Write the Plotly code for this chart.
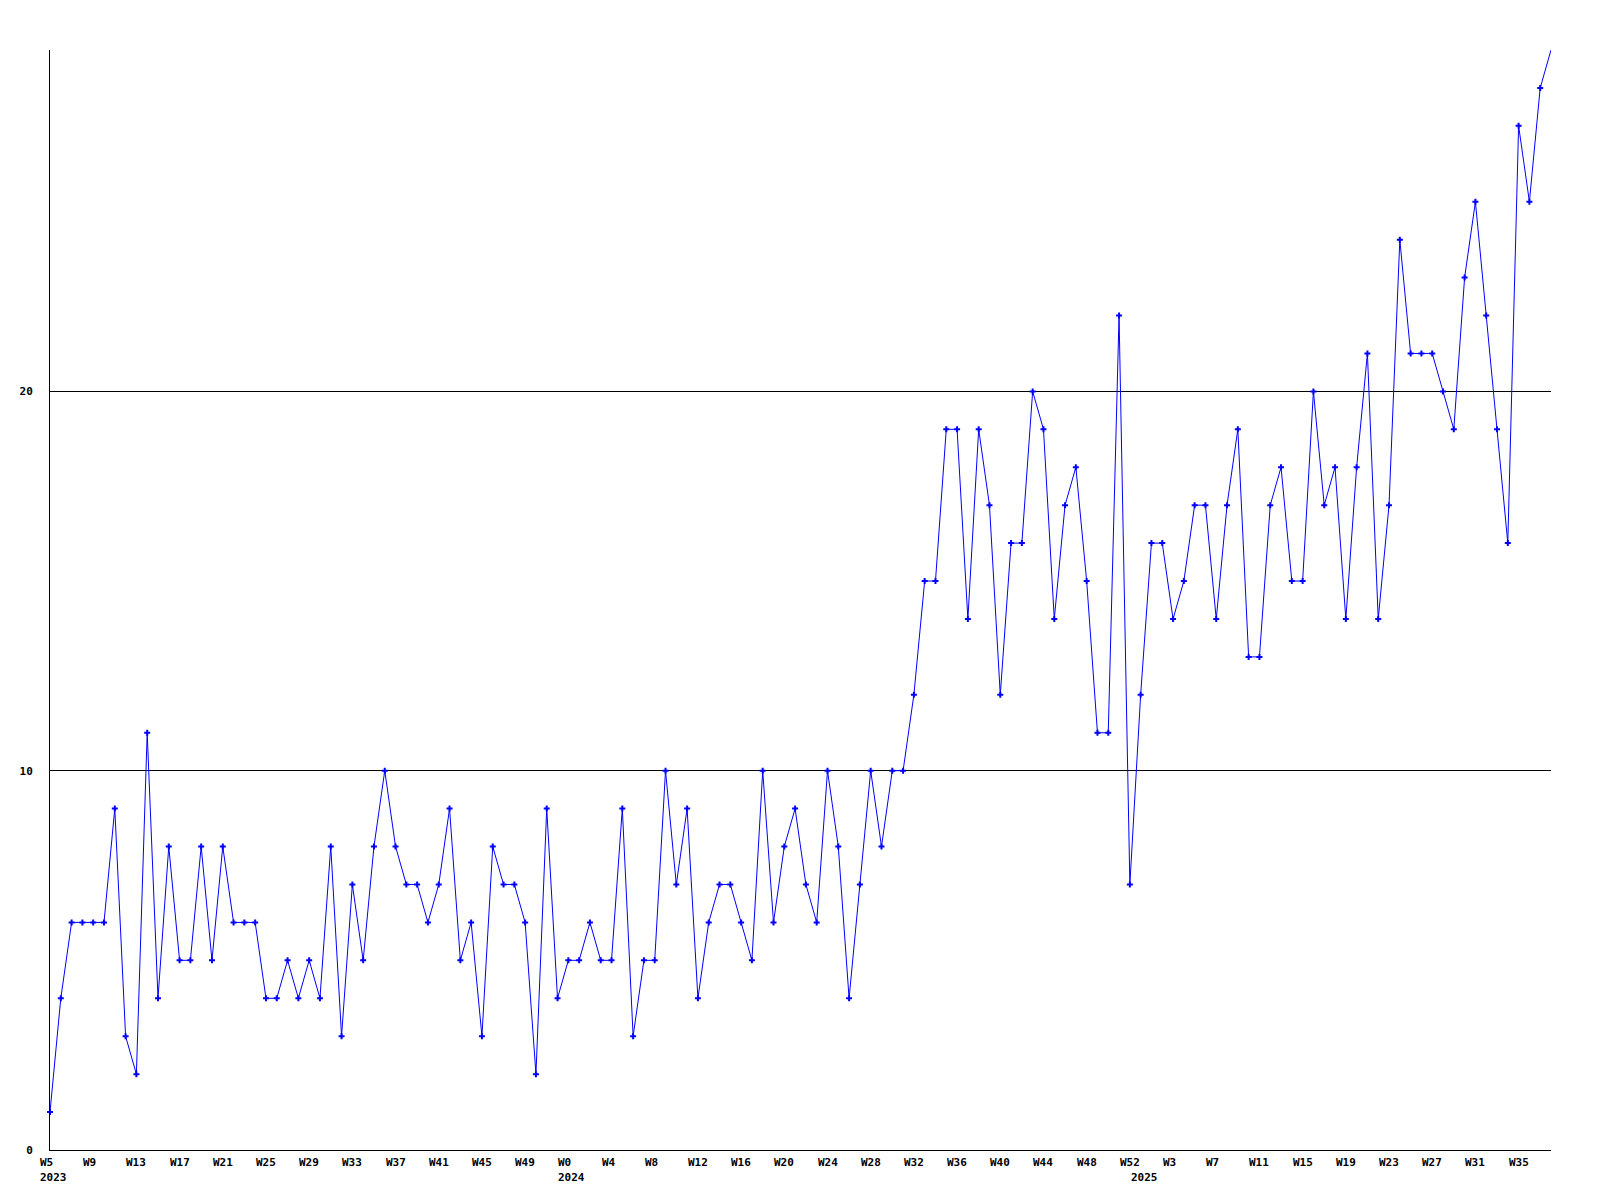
import plotly.graph_objects as go

# weekly counts, 2023 W5 .. 2025 W38
period_year = [2023] * 48 + [2024] * 53 + [2025] * 39
period_week = list(range(5, 53)) + list(range(0, 53)) + list(range(0, 39))

counts = [
    # 2023
    1, 4, 6, 6, 6, 6, 9, 3, 2, 11, 4, 8, 5, 5, 8, 5, 8, 6, 6, 6,
    4, 4, 5, 4, 5, 4, 8, 3, 7, 5, 8, 10, 8, 7, 7, 6, 7, 9, 5, 6,
    3, 8, 7, 7, 6, 2, 9, 4,
    # 2024
    5, 5, 6, 5, 5, 9, 3, 5, 5, 10, 7, 9, 4, 6, 7, 7, 6, 5, 10, 6,
    8, 9, 7, 6, 10, 8, 4, 7, 10, 8, 10, 10, 12, 15, 15, 19, 19, 14, 19, 17,
    12, 16, 16, 20, 19, 14, 17, 18, 15, 11, 11, 22, 7,
    # 2025
    12, 16, 16, 14, 15, 17, 17, 14, 17, 19, 13, 13, 17, 18, 15, 15, 20, 17, 18, 14,
    18, 21, 14, 17, 24, 21, 21, 21, 20, 19, 23, 25, 22, 19, 16, 27, 25, 28, 29,
]

x_tick_labels = [
    "W5", "W9", "W13", "W17", "W21", "W25", "W29", "W33", "W37", "W41", "W45", "W49",
    "W0", "W4", "W8", "W12", "W16", "W20", "W24", "W28", "W32", "W36", "W40", "W44", "W48", "W52",
    "W3", "W7", "W11", "W15", "W19", "W23", "W27", "W31", "W35",
]
year_labels = ["2023", "2024", "2025"]
y_ticks = [0, 10, 20]

_FONT = dict(family="DejaVu Sans Mono", size=11, color="black", weight="bold")
_BLUE = "#0000ff"

idx = list(range(len(counts)))
hover = [f"{y} W{w}: {c}" for y, w, c in zip(period_year, period_week, counts)]

fig = go.Figure()
fig.add_trace(
    go.Scatter(
        x=idx,
        y=counts,
        mode="lines",
        line=dict(color=_BLUE, width=1),
        text=hover,
        hoverinfo="text",
        cliponaxis=False,
    )
)
# the original renderer leaves the still-open current week without a marker
fig.add_trace(
    go.Scatter(
        x=idx[:-1],
        y=counts[:-1],
        mode="markers",
        marker=dict(symbol="cross", size=5, color=_BLUE),
        hoverinfo="skip",
        cliponaxis=False,
    )
)

# week labels every 4th point, left-aligned like the original renderer
tick_pos = idx[::4]
for pos, label in zip(tick_pos, x_tick_labels):
    fig.add_annotation(
        x=pos, y=0, xref="x", yref="paper", text=label, showarrow=False,
        xanchor="left", yanchor="middle", xshift=-12, yshift=-12, font=_FONT,
    )

# year labels under the first week of each year
year_pos = [period_year.index(int(y)) for y in year_labels]
for pos, label in zip(year_pos, year_labels):
    fig.add_annotation(
        x=pos, y=0, xref="x", yref="paper", text=label, showarrow=False,
        xanchor="left", yanchor="middle", xshift=-12, yshift=-27, font=_FONT,
    )

fig.update_layout(
    width=1600,
    height=1200,
    margin=dict(l=50, r=49, t=50, b=50),
    paper_bgcolor="white",
    plot_bgcolor="white",
    showlegend=False,
    font=_FONT,
    xaxis=dict(
        range=[0, len(counts) - 1],
        showgrid=False,
        zeroline=False,
        showline=True,
        linecolor="black",
        linewidth=1,
        showticklabels=False,
        ticks="",
    ),
    yaxis=dict(
        range=[0, 29],
        tickvals=y_ticks,
        showgrid=True,
        gridcolor="black",
        gridwidth=1,
        zeroline=False,
        showline=True,
        linecolor="black",
        linewidth=1,
        ticks="",
        ticklabelstandoff=14,
        tickfont=_FONT,
    ),
)

fig.write_html(
    "out.html",
    config={"displayModeBar": False},
    post_script="document.body.style.margin='0';",
)
